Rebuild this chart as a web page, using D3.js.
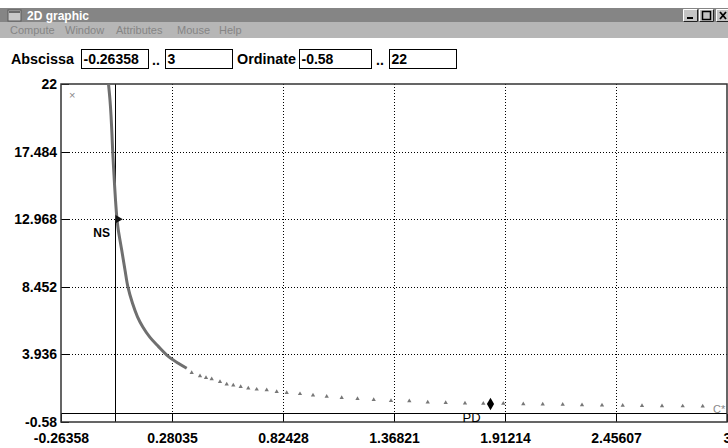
<!DOCTYPE html>
<html>
<head>
<meta charset="utf-8">
<script src="https://cdn.jsdelivr.net/npm/d3@7"></script>
<style>
body { margin: 0; background: #fff; }
svg { display: block; font-family: "Liberation Sans", Arial, sans-serif; }
</style>
</head>
<body>
<div id="chart"></div>
<script>
// axis ranges and ticks, as shown in the window
const xDomain = [-0.26358, 3];
const yDomain = [-0.58, 22];
const xTicks = [-0.26358, 0.28035, 0.82428, 1.36821, 1.91214, 2.45607, 3];
const yTicks = [22, 17.484, 12.968, 8.452, 3.936, -0.58];

// solid part of the branch
const curveX = [-0.0308, -0.0235, -0.0186, -0.0137, -0.0102, -0.0039, 0.0035, 0.0108, 0.0172, 0.0339, 0.0500, 0.0640, 0.0868, 0.1113, 0.1382, 0.1726, 0.2132, 0.2622, 0.3112, 0.3524];
const curveY = [22, 20.93, 19.93, 18.59, 17.484, 15.92, 14.25, 12.968, 12.25, 10.91, 9.57, 8.46, 7.35, 6.45, 5.75, 5.07, 4.47, 3.80, 3.34, 3.01];

// sparse computed points further along the branch
const trailX = [0.3769, 0.4176, 0.4470, 0.4749, 0.5156, 0.5484, 0.5807, 0.6170, 0.6542, 0.6954, 0.7444, 0.7934, 0.8424, 0.9076, 0.9713, 1.0384, 1.1119, 1.1894, 1.2687, 1.3535, 1.4432, 1.5334, 1.6216, 1.7161, 1.8058, 1.9038, 2.0018, 2.0969, 2.1949, 2.2895, 2.3875, 2.4889, 2.5835, 2.6815, 2.7829, 2.8809];
const trailY = [2.71, 2.49, 2.38, 2.29, 2.11, 1.94, 1.87, 1.78, 1.67, 1.60, 1.56, 1.44, 1.38, 1.30, 1.20, 1.13, 1.04, 0.97, 0.90, 0.84, 0.82, 0.74, 0.70, 0.68, 0.66, 0.65, 0.63, 0.61, 0.59, 0.56, 0.54, 0.53, 0.51, 0.49, 0.48, 0.47];

const specialNames = ["NS", "PD"];
const specialX = [0.0108, 1.8411];
const specialY = [12.968, 0.62];

const menuItems = ["Compute", "Window", "Attributes", "Mouse", "Help"];
const fieldValues = ["-0.26358", "3", "-0.58", "22"];

const W = 728, H = 448;
const svg = d3.select("#chart").append("svg")
	.attr("width", W)
	.attr("height", H);

// ---- window chrome ----
svg.append("rect").attr("x", 0).attr("y", 8).attr("width", W).attr("height", 14).attr("fill", "#858585");
svg.append("rect").attr("x", 0).attr("y", 22).attr("width", W).attr("height", 16).attr("fill", "#b6b6b6");

// system icon
const icon = svg.append("g").attr("transform", "translate(8,10)");
icon.append("rect").attr("width", 13).attr("height", 11).attr("fill", "#c8c8c8").attr("stroke", "#5a5a5a");
icon.append("rect").attr("x", 1).attr("y", 1).attr("width", 11).attr("height", 2).attr("fill", "#6a6a6a");

svg.append("text")
	.attr("x", 27).attr("y", 19.5)
	.attr("fill", "#fff")
	.attr("font-size", 12).attr("font-weight", "bold")
	.text("2D graphic");

const menuX = [10, 65, 116, 177, 219];
svg.selectAll(".menu")
	.data(menuItems)
	.enter().append("text")
	.attr("class", "menu")
	.attr("x", (d, i) => menuX[i])
	.attr("y", 34)
	.attr("font-size", 11)
	.attr("fill", "#858585")
	.text(d => d);

// min / max / close buttons
const btnX = [683, 699, 716];
const btn = svg.selectAll(".btn")
	.data(btnX)
	.enter().append("g")
	.attr("class", "btn")
	.attr("transform", d => `translate(${d},9)`);
btn.append("rect").attr("width", 15).attr("height", 13).attr("fill", "#c4c4c4");
btn.append("path").attr("d", "M0.5,12.5V0.5H14.5").attr("fill", "none").attr("stroke", "#fff");
btn.append("path").attr("d", "M0.5,12.5H14.5V0.5").attr("fill", "none").attr("stroke", "#222");
svg.append("rect").attr("x", 687).attr("y", 17).attr("width", 6).attr("height", 2).attr("fill", "#000");
svg.append("rect").attr("x", 702.5).attr("y", 11.5).attr("width", 8).attr("height", 8).attr("fill", "none").attr("stroke", "#000").attr("stroke-width", 1.5);
svg.append("path").attr("d", "M720,12L726,19M726,12L720,19").attr("stroke", "#000").attr("stroke-width", 1.8);

// ---- range fields ----
const labelFont = 14;
svg.append("text").attr("x", 11).attr("y", 64).attr("font-size", labelFont).attr("font-weight", "bold")
	.attr("textLength", 63).attr("lengthAdjust", "spacingAndGlyphs").text("Abscissa");
svg.append("text").attr("x", 237).attr("y", 64).attr("font-size", labelFont).attr("font-weight", "bold")
	.attr("textLength", 59).attr("lengthAdjust", "spacingAndGlyphs").text("Ordinate");
const boxX = [81.5, 165.5, 299.5, 389.5];
const boxW = [67, 67, 72, 67];
svg.selectAll(".box")
	.data(fieldValues)
	.enter().append("rect")
	.attr("class", "box")
	.attr("x", (d, i) => boxX[i]).attr("y", 49.5)
	.attr("width", (d, i) => boxW[i]).attr("height", 19)
	.attr("fill", "#fff").attr("stroke", "#000");
svg.selectAll(".boxText")
	.data(fieldValues)
	.enter().append("text")
	.attr("class", "boxText")
	.attr("x", (d, i) => boxX[i] + 2).attr("y", 64)
	.attr("font-size", labelFont).attr("font-weight", "bold")
	.text(d => d);
[152, 376].forEach(px => {
	svg.append("text").attr("x", px).attr("y", 65).attr("font-size", labelFont).attr("font-weight", "bold").text("..");
});

// ---- plot ----
const plotLeft = 61, plotRight = 727, plotTop = 84, plotBottom = 422;
const x = d3.scaleLinear().domain(xDomain).range([plotLeft, plotRight]);
const y = d3.scaleLinear().domain(yDomain).range([plotBottom, plotTop]);

const grid = svg.append("g").attr("shape-rendering", "crispEdges");
grid.selectAll(".vgrid")
	.data(xTicks.slice(1, -1))
	.enter().append("line")
	.attr("x1", d => Math.round(x(d)) + 0.5).attr("x2", d => Math.round(x(d)) + 0.5)
	.attr("y1", plotTop).attr("y2", y(0))
	.attr("stroke", "#000").attr("stroke-dasharray", "1,2");
grid.selectAll(".hgrid")
	.data(yTicks.slice(1, -1))
	.enter().append("line")
	.attr("x1", plotLeft + 8).attr("x2", plotRight)
	.attr("y1", d => Math.round(y(d)) + 0.5).attr("y2", d => Math.round(y(d)) + 0.5)
	.attr("stroke", "#000").attr("stroke-dasharray", "1,2");

// axes: bottom ticks go up from the frame, left ticks go right
const xAxis = d3.axisBottom(x).tickValues(xTicks).tickSizeInner(-8).tickSizeOuter(0).tickPadding(11)
	.tickFormat(d => String(d));
const gx = svg.append("g").attr("transform", `translate(0,${plotBottom})`).call(xAxis);
const yAxis = d3.axisLeft(y).tickValues(yTicks).tickSizeInner(-8).tickSizeOuter(0).tickPadding(4)
	.tickFormat(d => String(d));
const gy = svg.append("g").attr("transform", `translate(${plotLeft},0)`).call(yAxis);
[gx, gy].forEach(g => {
	g.select(".domain").remove();
	g.selectAll("line").attr("stroke", "#000").attr("shape-rendering", "crispEdges");
	g.selectAll("text").attr("font-size", 14).attr("font-weight", "bold").attr("fill", "#000")
		.attr("font-family", "'Liberation Sans', Arial, sans-serif");
});
gy.selectAll("text").attr("x", -4);

// coordinate axes x=0 and y=0
svg.append("line").attr("x1", Math.round(x(0)) + 0.5).attr("x2", Math.round(x(0)) + 0.5)
	.attr("y1", plotTop).attr("y2", plotBottom).attr("stroke", "#000").attr("shape-rendering", "crispEdges");
svg.append("line").attr("x1", plotLeft).attr("x2", plotRight)
	.attr("y1", Math.round(y(0)) + 0.5).attr("y2", Math.round(y(0)) + 0.5)
	.attr("stroke", "#000").attr("shape-rendering", "crispEdges");

// frame
svg.append("rect").attr("x", plotLeft).attr("y", plotTop)
	.attr("width", plotRight - plotLeft).attr("height", plotBottom - plotTop)
	.attr("fill", "none").attr("stroke", "#333").attr("stroke-width", 1.5);

svg.append("text").attr("x", 69).attr("y", 99).attr("font-size", 11).attr("fill", "#888").text("×");

// branch
const curve = curveX.map((d, i) => [d, curveY[i]]);
svg.append("path")
	.datum(curve)
	.attr("fill", "none")
	.attr("stroke", "#6f6f6f")
	.attr("stroke-width", 3)
	.attr("d", d3.line().x(d => x(d[0])).y(d => y(d[1])).curve(d3.curveCatmullRom));

const trail = trailX.map((d, i) => [d, trailY[i]]);
svg.selectAll(".trail")
	.data(trail)
	.enter().append("path")
	.attr("class", "trail")
	.attr("transform", d => `translate(${x(d[0])},${y(d[1])})`)
	.attr("d", d3.symbol(d3.symbolTriangle).size(8))
	.attr("fill", "#777");

// special points
svg.append("path")
	.attr("transform", `translate(${x(specialX[0]) + 1},${y(specialY[0])}) rotate(90)`)
	.attr("d", d3.symbol(d3.symbolTriangle).size(30))
	.attr("fill", "#111");
svg.append("path")
	.attr("transform", `translate(${x(specialX[1])},${y(specialY[1])})`)
	.attr("d", d3.symbol(d3.symbolDiamond).size(45))
	.attr("fill", "#000");
svg.append("text").attr("x", x(specialX[0]) - 7).attr("y", y(specialY[0]) + 18)
	.attr("text-anchor", "end").attr("font-size", 12).attr("font-weight", "bold").text(specialNames[0]);
svg.append("text").attr("x", x(specialX[1]) - 28).attr("y", y(specialY[1]) + 18)
	.attr("font-size", 13).text(specialNames[1]);

svg.append("text").attr("x", 713).attr("y", 413).attr("font-size", 11).attr("fill", "#888").text("C*");
</script>
</body>
</html>
